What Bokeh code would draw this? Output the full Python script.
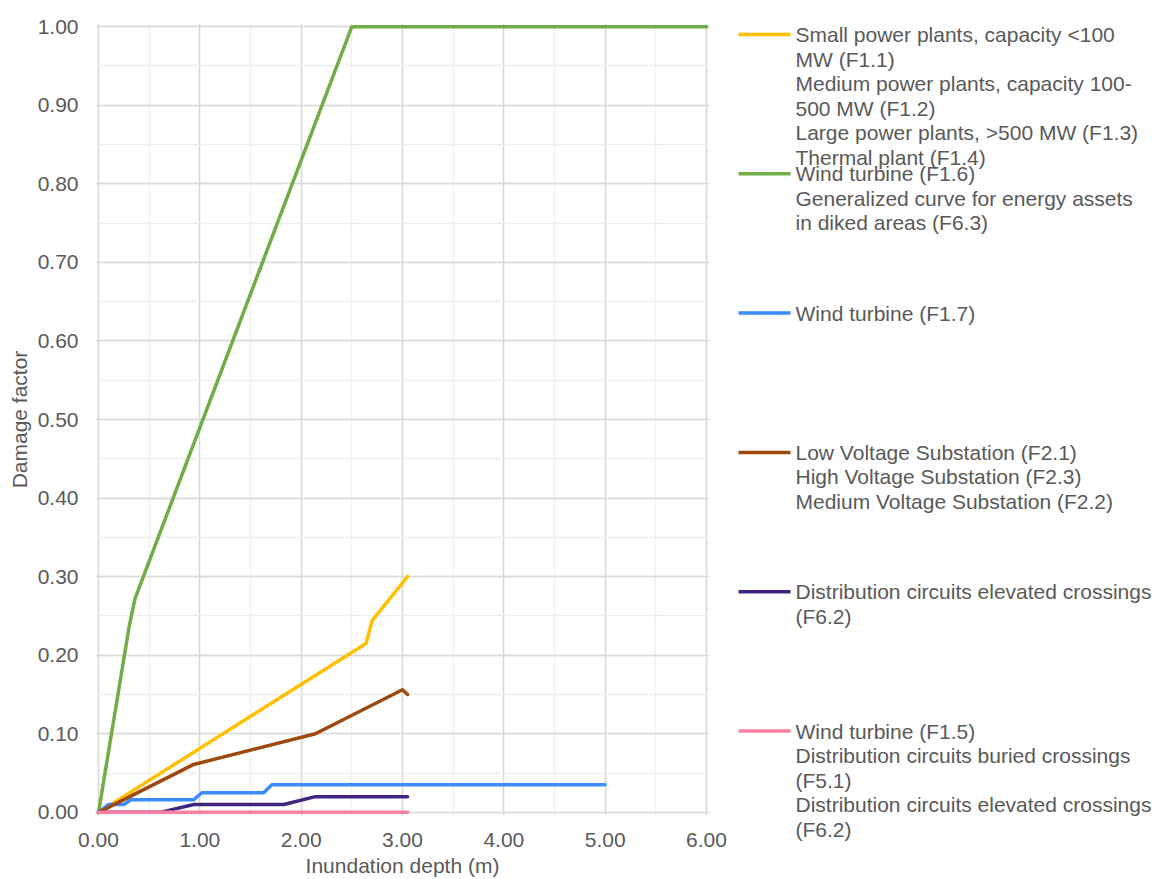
from bokeh.plotting import figure
from bokeh.layouts import row
from bokeh.models import Range1d, FixedTicker, NumeralTickFormatter
from bokeh.embed import file_html
from bokeh.resources import INLINE
from bokeh.core.properties import value

# ---- Depth-damage curves: inundation depth (m) vs damage factor ----
power_plants_depth = [0.0, 2.64, 2.70, 3.05]
power_plants_damage = [0.0, 0.215, 0.244, 0.300]

wind_f16_depth = [0.0, 0.30, 0.36, 2.50, 6.00]
wind_f16_damage = [0.0, 0.235, 0.272, 1.000, 1.000]

wind_f17_depth = [0.0, 0.10, 0.25, 0.32, 0.94, 1.02, 1.63, 1.71, 5.00]
wind_f17_damage = [0.0, 0.010, 0.010, 0.016, 0.016, 0.025, 0.025, 0.035, 0.035]

substation_depth = [0.0, 0.94, 2.14, 3.00, 3.05]
substation_damage = [0.0, 0.061, 0.100, 0.156, 0.150]

elevated_depth = [0.0, 0.61, 0.94, 1.83, 2.14, 3.05]
elevated_damage = [0.0, 0.0, 0.010, 0.010, 0.020, 0.020]

zero_depth = [0.0, 3.05]
zero_damage = [0.0, 0.0]

series_colors = ["#FFC000", "#70AD47", "#3A8CFF", "#9E480E", "#3F2580", "#FF7FA0"]

legend_labels = [
    ["Small power plants, capacity <100", "MW (F1.1)",
     "Medium power plants, capacity 100-", "500 MW (F1.2)",
     "Large power plants, >500 MW (F1.3)", "Thermal plant (F1.4)"],
    ["Wind turbine (F1.6)", "Generalized curve for energy assets",
     "in diked areas (F6.3)"],
    ["Wind turbine (F1.7)"],
    ["Low Voltage Substation (F2.1)", "High Voltage Substation (F2.3)",
     "Medium Voltage Substation (F2.2)"],
    ["Distribution circuits elevated crossings", "(F6.2)"],
    ["Wind turbine (F1.5)", "Distribution circuits buried crossings", "(F5.1)",
     "Distribution circuits elevated crossings", "(F6.2)"],
]

x_ticks = [0, 1, 2, 3, 4, 5, 6]
x_minor = [0.5 * i for i in range(13)]
y_ticks = [round(0.1 * i, 2) for i in range(11)]
y_minor = [round(0.05 * i, 2) for i in range(21)]

FONT = "Liberation Sans"
TEXT_COLOR = "#595959"
FONT_SIZE = "21px"

series = [
    (power_plants_depth, power_plants_damage),
    (wind_f16_depth, wind_f16_damage),
    (wind_f17_depth, wind_f17_damage),
    (substation_depth, substation_damage),
    (elevated_depth, elevated_damage),
    (zero_depth, zero_damage),
]

H = 879
MAIN_W = 736
TOP, BOTTOM = 23, 64

# ---- main chart ----
p = figure(width=MAIN_W, height=H, output_backend="svg", toolbar_location=None,
           x_range=Range1d(-0.03, 6.03), y_range=Range1d(-0.004, 1.004),
           min_border_left=95, min_border_right=27, min_border_top=TOP,
           min_border_bottom=BOTTOM)
p.outline_line_color = None
p.background_fill_color = "white"
p.border_fill_color = "white"

p.xaxis.ticker = FixedTicker(ticks=x_ticks, minor_ticks=x_minor)
p.yaxis.ticker = FixedTicker(ticks=y_ticks, minor_ticks=y_minor)
p.xaxis.formatter = NumeralTickFormatter(format="0.00")
p.yaxis.formatter = NumeralTickFormatter(format="0.00")

for ax in (p.xaxis, p.yaxis):
    ax.axis_line_color = None
    ax.major_tick_line_color = None
    ax.minor_tick_line_color = None
    ax.major_label_text_font = FONT
    ax.major_label_text_font_size = FONT_SIZE
    ax.major_label_text_color = TEXT_COLOR
    ax.axis_label_text_font = FONT
    ax.axis_label_text_font_size = FONT_SIZE
    ax.axis_label_text_font_style = "normal"
    ax.axis_label_text_color = TEXT_COLOR

p.xaxis.axis_label = "Inundation depth (m)"
p.yaxis.axis_label = "Damage factor"
p.xaxis.major_label_standoff = 11
p.xaxis.axis_label_standoff = 4
p.yaxis.major_label_standoff = 11
p.yaxis.axis_label_standoff = 4

for g in (p.xgrid, p.ygrid):
    g.grid_line_color = "#D9D9D9"
    g.grid_line_width = 1.5
    g.minor_grid_line_color = "#F0F0F0"
    g.minor_grid_line_width = 1.5

for (xs, ys), c in zip(series, series_colors):
    p.line(xs, ys, line_color=c, line_width=3.5, line_join="round", line_cap="round")

# ---- legend panel (drawn in its own pixel-based coordinate space) ----
LEG_W = 1160 - MAIN_W
leg = figure(width=LEG_W, height=H, output_backend="svg", toolbar_location=None,
             x_range=Range1d(0, LEG_W), y_range=Range1d(H, 0),
             x_axis_type=None, y_axis_type=None, min_border=0)
leg.outline_line_color = None
leg.grid.visible = False
leg.background_fill_color = "white"
leg.border_fill_color = "white"

if "frame_align" in leg.properties():
    leg.frame_align = False
    p.frame_align = False
else:
    # frames are aligned with the chart, so map the panel onto that frame
    leg.y_range = Range1d(H - BOTTOM, TOP)

ENTRY_TOP = 34.0
ENTRY_STEP = 139.3
LINE_STEP = 24.5
for i, (lines, c) in enumerate(zip(legend_labels, series_colors)):
    y0 = ENTRY_TOP + ENTRY_STEP * i
    leg.segment(x0=[2], y0=[y0], x1=[54], y1=[y0], line_color=c, line_width=3.5)
    leg.text(x=[59] * len(lines), y=[y0 + LINE_STEP * j for j in range(len(lines))],
             text=lines, text_font=value(FONT), text_font_size=FONT_SIZE,
             text_color=TEXT_COLOR, text_baseline="middle", text_align="left")

layout = row(p, leg)
open("out.html", "w").write(file_html(layout, INLINE))
